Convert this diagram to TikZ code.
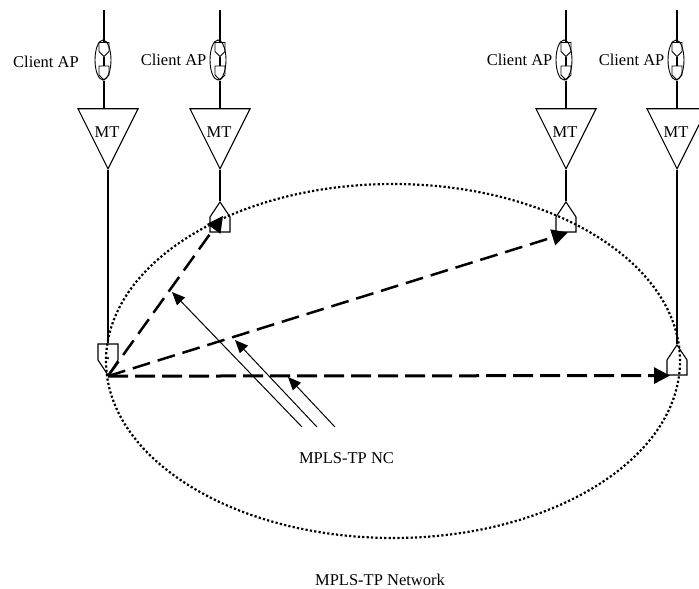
\documentclass[tikz,border=0pt]{standalone}
\usepackage{fontspec}
\setmainfont{Liberation Serif}
\usetikzlibrary{shapes.geometric, shapes.symbols, arrows.meta, calc, positioning}
\tikzstyle{mt} = [isosceles triangle, draw=black, line width=1.1pt, shape border rotate=270, isosceles triangle apex angle=53, isosceles triangle stretches, minimum width=60pt, minimum height=60pt, inner sep=0pt, anchor=apex]
\tikzstyle{termup} = [signal, draw=black, line width=1.1pt, signal to=north, signal from=nowhere, signal pointer angle=67, minimum width=20pt, minimum height=15pt, inner sep=0pt]
\tikzstyle{termdown} = [signal, draw=black, line width=1.1pt, signal to=south, signal from=nowhere, signal pointer angle=67, minimum width=20pt, minimum height=16pt, inner sep=0pt]
\tikzstyle{small} = [signal, draw=black, line width=0.9pt, signal to=south, signal from=nowhere, signal pointer angle=90, minimum width=10pt, minimum height=9pt, inner sep=0pt]
\tikzstyle{adapt} = [ellipse, draw=black, line width=0.9pt, minimum width=16pt, minimum height=40pt, inner sep=0pt]
\tikzstyle{wire} = [line width=1.1pt]
\tikzstyle{link} = [line width=2.5pt, dash pattern=on 18pt off 8pt, -{Triangle[length=16pt,width=16pt]}]
\tikzstyle{arrow} = [line width=1pt, -{Triangle[length=13pt,width=11pt]}]
\tikzstyle{lab} = [inner sep=0pt, font=\fontsize{16.5}{18}\selectfont]
\begin{document}
\begin{tikzpicture}[x=1pt, y=-1pt]
		\useasboundingbox (0,0) rectangle (699,589);
		\clip (0,0) rectangle (699,589);
		\node (Network) [ellipse, draw=black, line width=2.2pt, dash pattern=on 2.2pt off 2.2pt, minimum width=574pt, minimum height=354pt, inner sep=0pt] at (393,361) {};
		
		\node (MtA) [mt] at (108,170) {};
		\node (MtB) [mt] at (220,170) {};
		\node (MtC) [mt] at (566,170) {};
		\node (MtD) [mt] at (677,170) {};
		
		\node (TermA) [termdown] at (108,352) {};
		\node (TermB) [termup] at (220,224.5) {};
		\node (TermC) [termup] at (566,224.5) {};
		\node (TermD) [termup] at (677,367.5) {};
		\node (Dot) [circle, fill=black, inner sep=0pt, minimum size=2.5pt] at (108,358) {};
		
		\node (ApA) [adapt] at (103,60) {};
		\node (ApB) [adapt] at (218,60) {};
		\node (ApC) [adapt] at (564,60) {};
		\node (ApD) [adapt] at (676,60) {};
		
		\node (ApA1) [small] at (104,47) {};
		\node (ApA2) [small] at (104,70.5) {};
		\node (ApB1) [small] at (220,47) {};
		\node (ApB2) [small] at (220,70.5) {};
		\node (ApC1) [small] at (566,47) {};
		\node (ApC2) [small] at (566,70.5) {};
		\node (ApD1) [small] at (677,47) {};
		\node (ApD2) [small] at (677,70.5) {};
		
		\node (LabA) [lab] at (46,62) {Client AP};
		\node (LabB) [lab, left = 3pt of ApB] {Client AP};
		\node (LabC) [lab, left = 3pt of ApC] {Client AP};
		\node (LabD) [lab, left = 3pt of ApD] {Client AP};
		\node (LabNc) [lab] at (346.5,458) {MPLS-TP NC};
		\node (LabNet) [lab] at (380,580) {MPLS-TP Network};
		\node (LabMtA) [lab] at ($(MtA.lower side)+(-1,24)$) {MT};
		\node (LabMtB) [lab] at ($(MtB.lower side)+(-1,24)$) {MT};
		\node (LabMtC) [lab] at ($(MtC.lower side)+(-1,24)$) {MT};
		\node (LabMtD) [lab] at ($(MtD.lower side)+(-1,24)$) {MT};
		
		\coordinate (TopA) at (104,10);
		\coordinate (TopB) at (220,10);
		\coordinate (TopC) at (566,10);
		\coordinate (TopD) at (677,10);
		
		\draw [wire] (TopA) -- (ApA1.north);
		\draw [wire] (TopB) -- (ApB1.north);
		\draw [wire] (TopC) -- (ApC1.north);
		\draw [wire] (TopD) -- (ApD1.north);
		\draw [wire] (ApA1.south) -- (ApA2.north);
		\draw [wire] (ApB1.south) -- (ApB2.north);
		\draw [wire] (ApC1.south) -- (ApC2.north);
		\draw [wire] (ApD1.south) -- (ApD2.north);
		\draw [wire] (ApA2.south) -- (ApA2.south |- MtA.lower side);
		\draw [wire] (ApB2.south) -- (MtB.lower side);
		\draw [wire] (ApC2.south) -- (MtC.lower side);
		\draw [wire] (ApD2.south) -- (MtD.lower side);
		\draw [wire] (MtA.apex) -- (TermA.north);
		\draw [wire] (MtB.apex) -- (TermB.north);
		\draw [wire] (MtC.apex) -- (TermC.north);
		\draw [wire] (MtD.apex) -- (TermD.north);
		
		\draw [link] (TermA.south) -- ($(TermB.north)+(3,15)$);
		\draw [link] (TermA.south) -- ($(TermC.south)+(2,0)$);
		\draw [link, line width=3pt, shorten >=7pt, dash pattern=on 20pt off 7pt] (TermA.south) -- (TermD.south);
		
		\coordinate (NcA) at (302,427);
		\coordinate (NcB) at (317,427);
		\coordinate (NcC) at (335,427);
		\coordinate (TipA) at (172,292);
		\coordinate (TipB) at (235,340);
		\coordinate (TipC) at (288,377);
		\draw [arrow] (NcA) -- (TipA);
		\draw [arrow] (NcB) -- (TipB);
		\draw [arrow] (NcC) -- (TipC);
\end{tikzpicture}
\end{document}
